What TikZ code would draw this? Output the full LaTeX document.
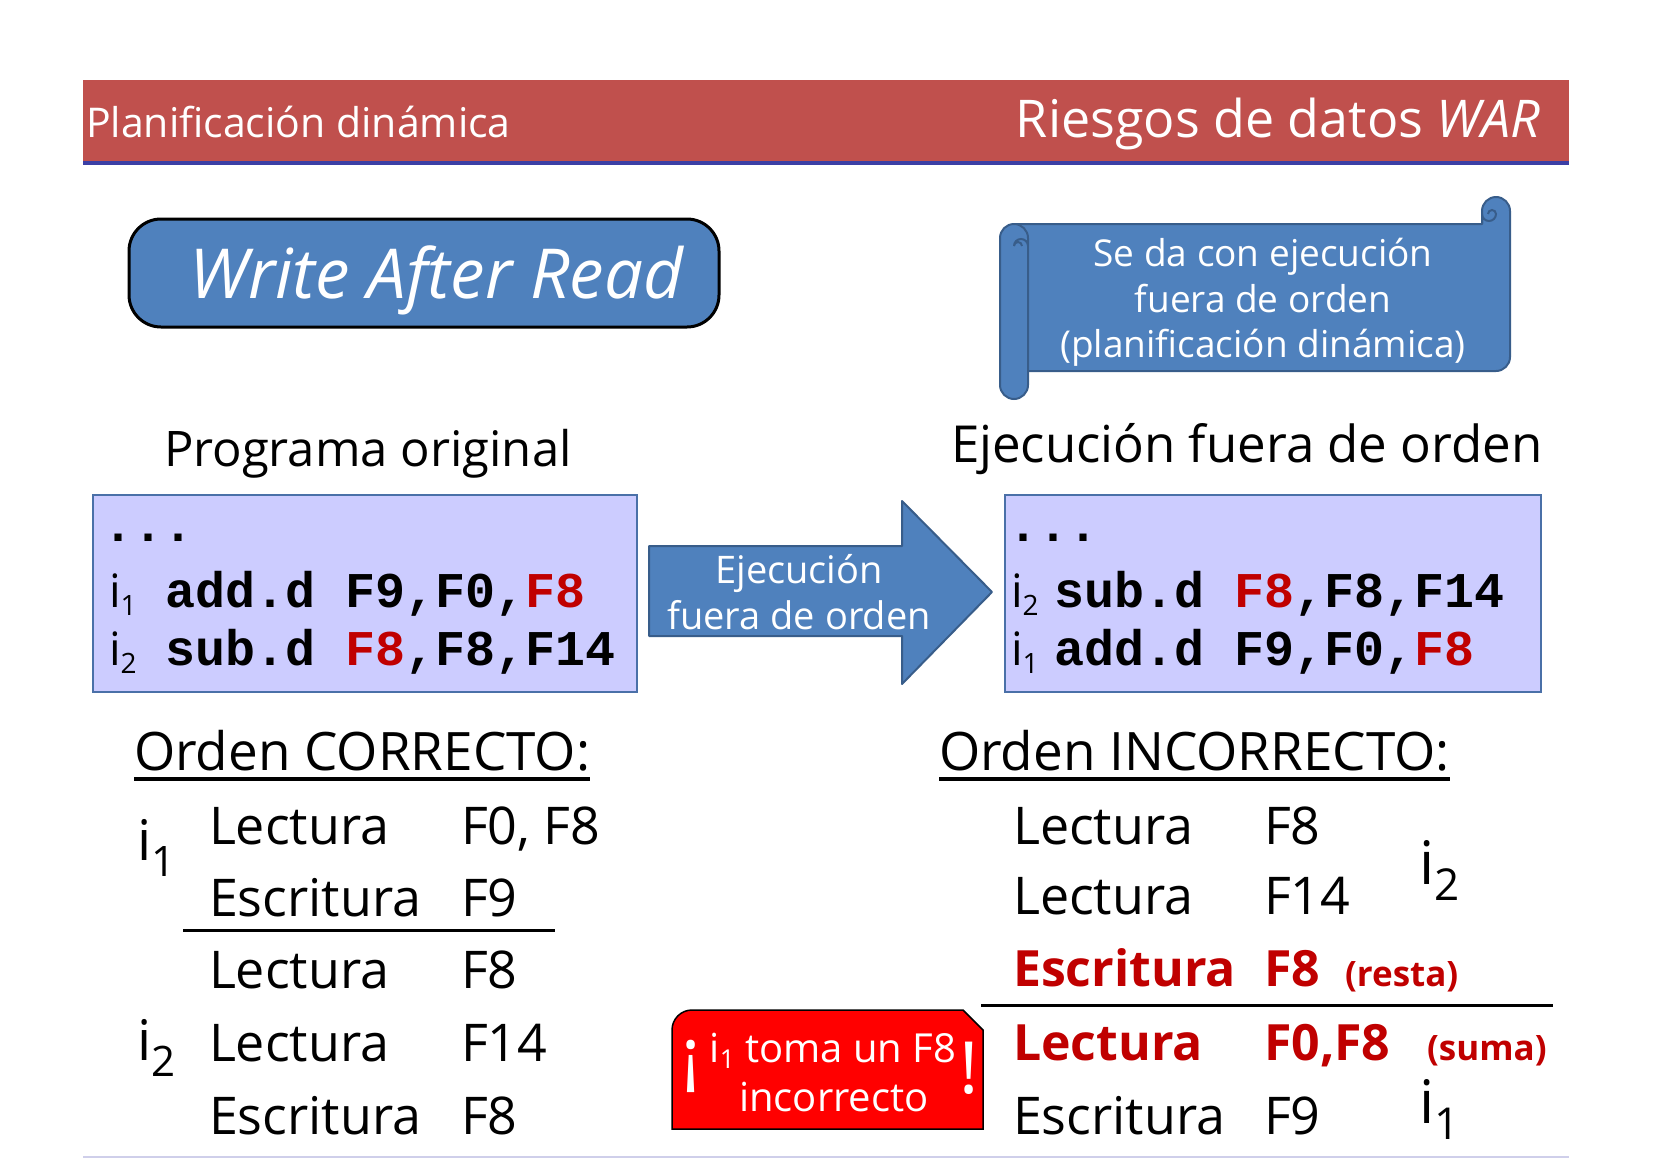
\documentclass[tikz,border=0pt]{standalone}
\usepackage{fontspec}
\setmainfont{Open Sans}
\newfontfamily\codefont{Liberation Mono}
\usetikzlibrary{calc}

\definecolor{hdrred}{HTML}{C0504D}
\definecolor{hdrblue}{HTML}{3B3FA5}
\definecolor{boxblue}{HTML}{4F81BD}
\definecolor{boxedge}{HTML}{385D8A}
\definecolor{codebg}{HTML}{CCCCFF}
\definecolor{codeedge}{HTML}{4A70A8}
\definecolor{hazred}{HTML}{C00000}
\definecolor{warnred}{HTML}{FF0000}
\definecolor{footline}{HTML}{CFCFEA}

\newcommand{\sz}[1]{\fontsize{#1}{#1}\selectfont}
% instruction index: i with a lowered number
\newcommand{\isub}[3]{i\raisebox{-#3}{\sz{#2}#1}}

\begin{document}
\begin{tikzpicture}[x=1pt,y=-1pt,
  lbl/.style={inner sep=0pt, outer sep=0pt, anchor=base west},
  hdr/.style={lbl, text=white},
  heading/.style={lbl, font=\sz{53}},
  item/.style={lbl, font=\sz{52}},
  hot/.style={lbl, text=hazred, font=\sz{50}\bfseries},
  note/.style={lbl, text=hazred, font=\sz{35}\bfseries},
  code/.style={lbl, font=\codefont\bfseries\sz{50}},
  whitetxt/.style={inner sep=0pt, outer sep=0pt, anchor=base, text=white},
  blueshape/.style={fill=boxblue, draw=boxedge, line width=2pt, line join=round},
  curl/.style={draw=boxedge, line width=2pt},
  codebox/.style={fill=codebg, draw=codeedge, line width=2pt, inner sep=0pt},
  uline/.style={line width=3.5pt},
  rule/.style={line width=3pt},
]
\useasboundingbox (0,0) rectangle (1654,1159);

% header band
\fill[hdrred] (83,80) rectangle (1569,161);
\fill[hdrblue] (83,161) rectangle (1569,165);
\node[hdr, font=\sz{41}] (title) at (86,137) {Planificación dinámica};
\node[hdr, anchor=base east, font=\sz{52}] (topic) at (1540,137) {Riesgos de datos \textit{WAR}};

% rounded title box
\node[blueshape, draw=black, line width=3pt, rounded corners=32pt,
      minimum width=590pt, minimum height=108pt, inner sep=0pt] (war) at (424,273) {};
\node[whitetxt, font=\sz{69}\itshape] (wartxt) at (436,298) {Write After Read};

% scroll banner
\draw[blueshape] (1014,224) -- (1482,224) -- (1482,211)
  arc[start angle=180,end angle=360,radius=14] -- (1510,357)
  arc[start angle=0,end angle=90,radius=14] -- (1014,371) -- cycle;
\draw[blueshape, rounded corners=14pt] (1000,224) rectangle (1028,399);
\draw[curl] (1028,246) arc[start angle=0,end angle=-180,radius=7] arc[start angle=180,end angle=360,radius=4];
\draw[curl] (1482,224) -- (1482,214) arc[start angle=180,end angle=0,radius=7] arc[start angle=0,end angle=-180,radius=4];
\node[whitetxt, font=\sz{37}] (s1) at (1263,266) {Se da con ejecución};
\node[whitetxt, font=\sz{37}] (s2) at (1263,312) {fuera de orden};
\node[whitetxt, font=\sz{37}] (s3) at (1263,357) {(planificación dinámica)};

% column headings
\node[heading, font=\sz{49}] (prog) at (164,466) {Programa original};
\node[heading, font=\sz{51}] (ooo) at (951,462) {Ejecución fuera de orden};

% original program
\node[codebox, anchor=north west, minimum width=544pt, minimum height=197pt] (lbox) at (92,494) {};
\node[code] (ld) at (103,541) {...};
\node[item, font=\sz{46}] (li1) at (109,607) {\isub{1}{28}{8pt}};
\node[code] (lc1) at (165,607) {add.d F9,F0,\textcolor{hazred}{F8}};
\node[item, font=\sz{46}] (li2) at (109,665) {\isub{2}{28}{8pt}};
\node[code] (lc2) at (165,665) {sub.d \textcolor{hazred}{F8},F8,F14};

% out-of-order execution
\node[codebox, anchor=north west, minimum width=536pt, minimum height=197pt] (rbox) at (1004,494) {};
\node[code] (rd) at (1008,541) {...};
\node[item, font=\sz{46}] (ri2) at (1011,607) {\isub{2}{28}{8pt}};
\node[code] (rc1) at (1054,607) {sub.d \textcolor{hazred}{F8},F8,F14};
\node[item, font=\sz{46}] (ri1) at (1011,665) {\isub{1}{28}{8pt}};
\node[code] (rc2) at (1054,665) {add.d F9,F0,\textcolor{hazred}{F8}};

% block arrow
\draw[blueshape] (649,546) -- (902,546) -- (902,501) -- (992,592) -- (902,684)
  -- (902,636) -- (649,636) -- cycle;
\node[whitetxt, font=\sz{38}] (a1) at (799,583) {Ejecución};
\node[whitetxt, font=\sz{38}] (a2) at (799,629) {fuera de orden};

% correct order
\node[heading] (okh) at (134,770) {Orden CORRECTO:};
\draw[uline] ([yshift=-9pt]okh.base west) -- ([yshift=-9pt]okh.base east);
\node[item, font=\sz{56}] (oki1) at (137,860) {\isub{1}{42}{16pt}};
\node[item] (ok1a) at (209,844) {Lectura};
\node[item] (ok1b) at (461,844) {F0, F8};
\node[item] (ok2a) at (209,916) {Escritura};
\node[item] (ok2b) at (461,916) {F9};
\draw[rule] (183,930) -- (555,930);
\node[item] (ok3a) at (209,988) {Lectura};
\node[item] (ok3b) at (461,988) {F8};
\node[item, font=\sz{56}] (oki2) at (137,1060) {\isub{2}{42}{16pt}};
\node[item] (ok4a) at (209,1061) {Lectura};
\node[item] (ok4b) at (461,1061) {F14};
\node[item] (ok5a) at (209,1134) {Escritura};
\node[item] (ok5b) at (461,1134) {F8};

% wrong order
\node[heading] (bdh) at (939,770) {Orden INCORRECTO:};
\draw[uline] ([yshift=-9pt]bdh.base west) -- ([yshift=-9pt]bdh.base east);
\node[item] (bd1a) at (1013,844) {Lectura};
\node[item] (bd1b) at (1264,844) {F8};
\node[item] (bd2a) at (1013,914) {Lectura};
\node[item] (bd2b) at (1264,914) {F14};
\node[item, font=\sz{60}] (bdi2) at (1419,884) {\isub{2}{44}{16pt}};
\node[hot] (bd3a) at (1013,986) {Escritura};
\node[hot] (bd3b) at (1264,986) {F8};
\node[note] (bd3c) at (1345,986) {(resta)};
\draw[rule] (981,1005) -- (1553,1005);
\node[hot] (bd4a) at (1013,1060) {Lectura};
\node[hot] (bd4b) at (1264,1060) {F0,F8};
\node[note] (bd4c) at (1427,1060) {(suma)};
\node[item] (bd5a) at (1013,1134) {Escritura};
\node[item] (bd5b) at (1264,1134) {F9};
\node[item, font=\sz{60}] (bdi1) at (1419,1123) {\isub{1}{44}{16pt}};

% warning label
\draw[fill=warnred, draw=black, line width=1.5pt] (672,1129) -- (672,1030)
  arc[start angle=180,end angle=270,radius=20] -- (963,1010) -- (983,1030)
  -- (983,1129) -- cycle;
\node[whitetxt, font=\sz{40}] (w1) at (833,1062) {\isub{1}{26}{6pt} toma un F8};
\node[whitetxt, font=\sz{40}] (w2) at (834,1111) {incorrecto};
\node[inner sep=0pt, text=white, font=\sz{72}] (wopen) at (691,1066) {¡};
\node[inner sep=0pt, text=white, font=\sz{72}] (wclose) at (969,1068) {!};

% footer rule
\draw[footline, line width=2pt] (83,1157) -- (1569,1157);
\end{tikzpicture}
\end{document}
